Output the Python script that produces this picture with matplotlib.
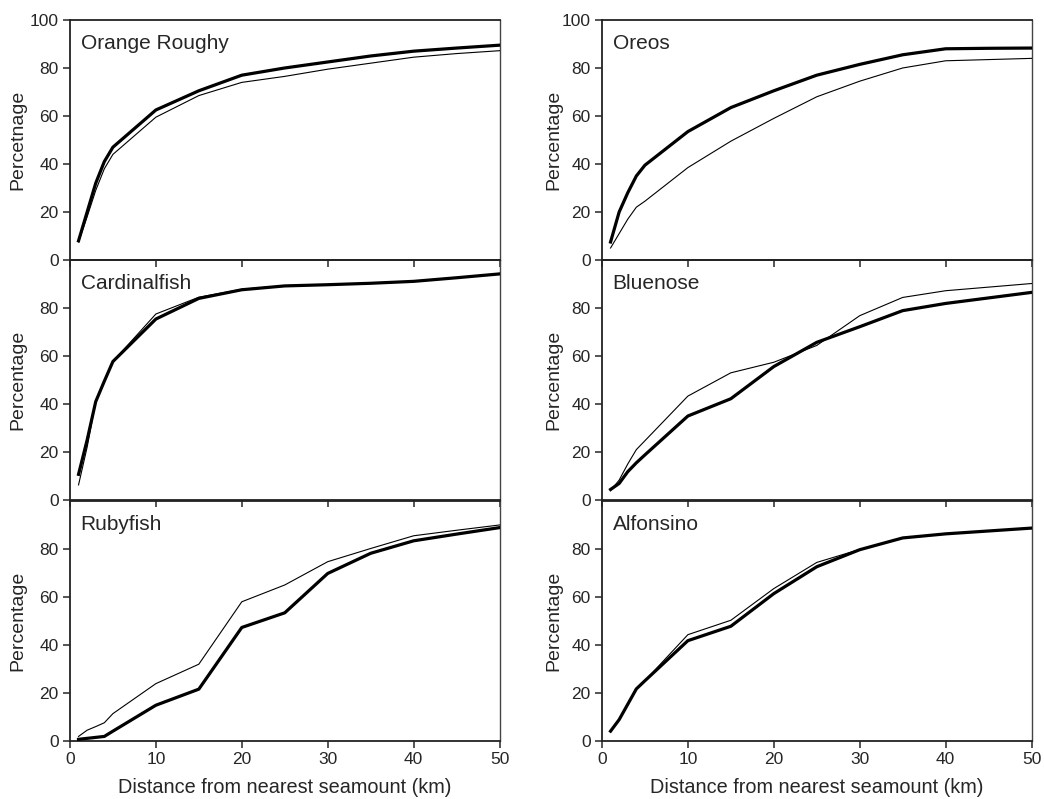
import matplotlib
matplotlib.use("Agg")
import matplotlib.pyplot as plt

plt.rcParams['font.family'] = ['Liberation Sans', 'DejaVu Sans']

# distance (km) at which cumulative percentages were read
distance = [1, 2, 3, 4, 5, 10, 15, 20, 25, 30, 35, 40, 45, 50]

species = ["Orange Roughy", "Oreos", "Cardinalfish", "Bluenose", "Rubyfish", "Alfonsino"]

# thick line
thick = {
    "Orange Roughy": [8, 20, 32, 41, 47, 62.5, 70.5, 77, 80, 82.5, 85, 87, 88.3, 89.5],
    "Oreos": [7.5, 20, 28, 35, 39.5, 53.5, 63.5, 70.5, 77, 81.5, 85.5, 88, 88.2, 88.3],
    "Cardinalfish": [10.7, 25, 41, 49.5, 57.7, 75.4, 84, 87.6, 89.2, 89.7, 90.3, 91.1, 92.6, 94.2],
    "Bluenose": [4.4, 6.9, 11.8, 15.5, 18.8, 35, 42.2, 55.6, 65.7, 72.2, 78.9, 81.9, 84.2, 86.5],
    "Rubyfish": [0.7, 1.1, 1.5, 1.9, 4.1, 14.9, 21.6, 47.3, 53.4, 69.8, 78.2, 83.4, 86.2, 88.9],
    "Alfonsino": [4.1, 8.9, 15.3, 21.7, 25.1, 41.8, 47.8, 61.4, 72.6, 79.7, 84.6, 86.3, 87.5, 88.7],
}

# thin line
thin = {
    "Orange Roughy": [7.5, 18, 29, 38, 44, 59.5, 68.5, 74, 76.5, 79.5, 82, 84.5, 86, 87.2],
    "Oreos": [5, 11, 17, 22, 24.5, 38.5, 49.5, 59, 68, 74.5, 80, 83, 83.5, 84],
    "Cardinalfish": [6.3, 22, 41, 49.5, 57.7, 77.5, 84.5, 87.8, 89.3, 89.8, 90.4, 91.2, 92.7, 94.3],
    "Bluenose": [3.9, 8.3, 15, 21, 24.7, 43.3, 53, 57.4, 64.4, 76.8, 84.4, 87.2, 88.7, 90.2],
    "Rubyfish": [1.9, 4.5, 6, 7.6, 11.4, 23.9, 32, 58, 65, 74.7, 80.2, 85.5, 87.8, 90],
    "Alfonsino": [4.1, 8.9, 15.3, 21.7, 25.1, 44.3, 50.3, 63.5, 74.4, 79.8, 84.7, 86.4, 87.6, 88.8],
}

ylabels = ["Percetnage", "Percentage", "Percentage", "Percentage", "Percentage", "Percentage"]

text_color = "#262626"

fig = plt.figure(figsize=(10.44, 7.99), dpi=100)

lefts = [0.067, 0.5766]
width = 0.4115
bottoms = [0.6746, 0.3742, 0.0726]
height = 0.3004
label_x = [-0.102, -0.093]

for i, name in enumerate(species):
    row, col = i // 2, i % 2
    ax = fig.add_axes([lefts[col], bottoms[row], width, height])
    ax.set_facecolor("none")

    ax.plot(distance, thin[name], color="black", lw=0.8, zorder=3)
    ax.plot(distance, thick[name], color="black", lw=2.3, zorder=4)

    ax.set_xlim(0, 50)
    ax.set_ylim(0, 100)
    ax.set_xticks([0, 10, 20, 30, 40, 50])
    if row == 0:
        ax.set_yticks([0, 20, 40, 60, 80, 100])
    else:
        ax.set_yticks([0, 20, 40, 60, 80])

    ax.tick_params(axis="both", direction="out", length=5, width=1.1,
                   labelsize=12.5, colors=text_color, pad=3)
    if row < 2:
        ax.tick_params(axis="x", labelbottom=False)
    else:
        ax.set_xlabel("Distance from nearest seamount (km)", fontsize=14.3,
                      color=text_color, labelpad=8)

    ax.set_ylabel(ylabels[i], fontsize=14, color=text_color)
    ax.yaxis.set_label_coords(label_x[col], 0.5)

    for side in ["left", "bottom", "top"]:
        ax.spines[side].set_linewidth(1.3)
        ax.spines[side].set_color("#222222")
    ax.spines["right"].set_linewidth(1.0)
    ax.spines["right"].set_color("#444444")

    ax.text(0.025, 0.9, name, transform=ax.transAxes, fontsize=15,
            color=text_color, ha="left", va="center")

fig.savefig("out.png", dpi=100)
